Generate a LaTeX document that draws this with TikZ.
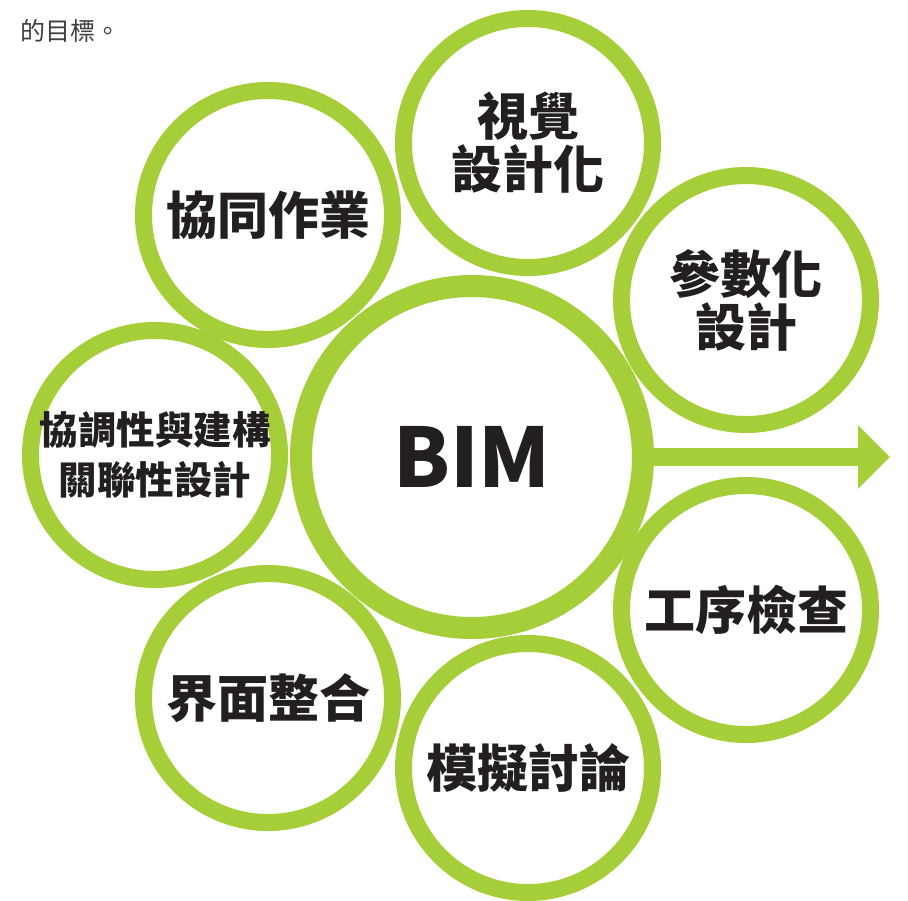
\documentclass[tikz,border=0pt]{standalone}
\usepackage{fontspec}
\newfontfamily\cjk{Noto Sans CJK TC}
\usetikzlibrary{arrows.meta}
\definecolor{bimgreen}{RGB}{166,206,57}
\definecolor{ink}{RGB}{35,31,32}
\tikzset{
  bubble/.style={circle, draw=bimgreen, line width=17pt, fill=white,
    minimum size=249pt, inner sep=0pt, align=center, text=ink,
    font=\cjk\bfseries\fontsize{51}{53}\selectfont},
  small/.style={font=\cjk\bfseries\fontsize{38.5}{50}\selectfont}
}
\begin{document}
\begin{tikzpicture}[x=1pt,y=-1pt]
\useasboundingbox (0,0) rectangle (908,900);
\fill[white] (0,0) rectangle (908,900);

\node[anchor=west, font=\cjk\fontsize{25}{28}\selectfont, text=black!75] (note) at (17,31) {的目標。};

\node[bubble] (xietong) at (268,215) {協同作業};
\node[bubble] (shijue) at (528,143) {視覺\\設計化};
\node[bubble] (canshu) at (746,300) {參數化\\設計};
\node[bubble, small] (xietiao) at (155,455) {協調性與建構\\關聯性設計};
\node[bubble] (gongxu) at (746,610) {工序檢查};
\node[bubble] (jiemian) at (268,698) {界面整合};
\node[bubble] (moni) at (528,768) {模擬討論};

\node[bubble, line width=22pt, minimum size=342pt, font=\cjk\bfseries\fontsize{82}{82}\selectfont] (bim) at (472,457) {BIM};

\coordinate (tip) at (890,457);
\draw[bimgreen, line width=18pt, -{Triangle[length=32pt,width=62pt]}] (bim.east) -- (tip);
\end{tikzpicture}
\end{document}
